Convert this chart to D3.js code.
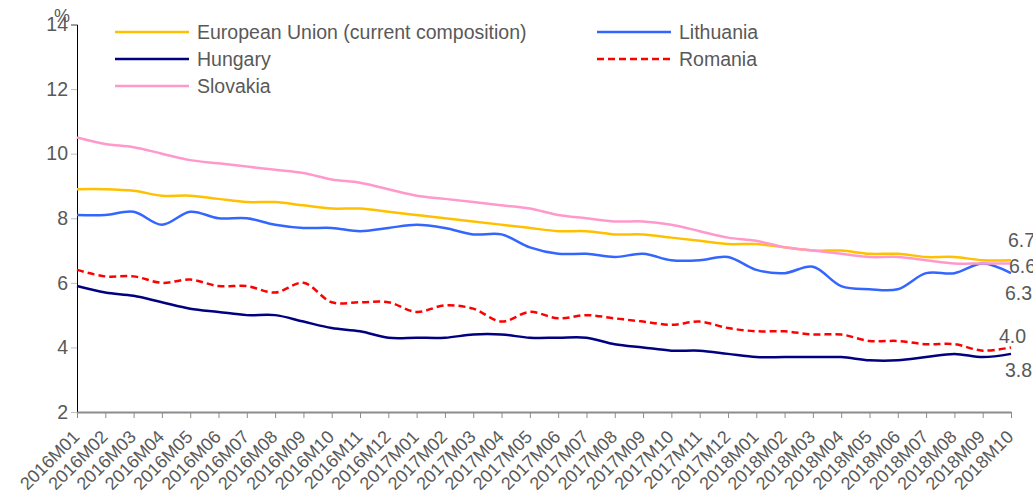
<!DOCTYPE html>
<html>
<head>
<meta charset="utf-8">
<script src="https://cdn.jsdelivr.net/npm/d3@7"></script>
<style>
    body { margin: 0; background: #fff; }
    text { font-family: "Liberation Sans", Arial, sans-serif; fill: #595959; }
</style>
</head>
<body>
<script>
const months = [
    "2016M01","2016M02","2016M03","2016M04","2016M05","2016M06","2016M07","2016M08","2016M09","2016M10","2016M11","2016M12",
    "2017M01","2017M02","2017M03","2017M04","2017M05","2017M06","2017M07","2017M08","2017M09","2017M10","2017M11","2017M12",
    "2018M01","2018M02","2018M03","2018M04","2018M05","2018M06","2018M07","2018M08","2018M09","2018M10"
];
const euValues = [8.9,8.9,8.85,8.7,8.7,8.6,8.5,8.5,8.4,8.3,8.3,8.2,8.1,8.0,7.9,7.8,7.7,7.6,7.6,7.5,7.5,7.4,7.3,7.2,7.2,7.1,7.0,7.0,6.9,6.9,6.8,6.8,6.7,6.7];
const lithuaniaValues = [8.1,8.1,8.2,7.8,8.2,8.0,8.0,7.8,7.7,7.7,7.6,7.7,7.8,7.7,7.5,7.5,7.1,6.9,6.9,6.8,6.9,6.7,6.7,6.8,6.4,6.3,6.5,5.9,5.8,5.8,6.3,6.3,6.6,6.3];
const hungaryValues = [5.9,5.7,5.6,5.4,5.2,5.1,5.0,5.0,4.8,4.6,4.5,4.3,4.3,4.3,4.4,4.4,4.3,4.3,4.3,4.1,4.0,3.9,3.9,3.8,3.7,3.7,3.7,3.7,3.6,3.6,3.7,3.8,3.7,3.8];
const romaniaValues = [6.4,6.2,6.2,6.0,6.1,5.9,5.9,5.7,6.0,5.4,5.4,5.4,5.1,5.3,5.2,4.8,5.1,4.9,5.0,4.9,4.8,4.7,4.8,4.6,4.5,4.5,4.4,4.4,4.2,4.2,4.1,4.1,3.9,4.0];
const slovakiaValues = [10.5,10.3,10.2,10.0,9.8,9.7,9.6,9.5,9.4,9.2,9.1,8.9,8.7,8.6,8.5,8.4,8.3,8.1,8.0,7.9,7.9,7.8,7.6,7.4,7.3,7.1,7.0,6.9,6.8,6.8,6.7,6.6,6.6,6.6];
const yTicks = [2, 4, 6, 8, 10, 12, 14];
const endLabels = ["6.7", "6.6", "6.3", "4.0", "3.8"];

const series = [
    { name: "European Union (current composition)", values: euValues, color: "#FFC000", dash: null },
    { name: "Lithuania", values: lithuaniaValues, color: "#3366FF", dash: null },
    { name: "Hungary", values: hungaryValues, color: "#000080", dash: null },
    { name: "Romania", values: romaniaValues, color: "#FF0000", dash: "7,4" },
    { name: "Slovakia", values: slovakiaValues, color: "#FF99CC", dash: null }
];

const width = 1033, height = 500;
const svg = d3.select("body").append("svg")
    .attr("width", width)
    .attr("height", height);

const x = d3.scalePoint().domain(months).range([77, 1011]);
const y = d3.scaleLinear().domain([2, 14]).range([412, 24.5]);

// y axis
const yAxis = svg.append("g")
    .attr("transform", "translate(77,0)")
    .call(d3.axisLeft(y).tickValues(yTicks).tickSize(6).tickPadding(3));
yAxis.select(".domain").attr("stroke", "#000").attr("stroke-width", 1);
yAxis.selectAll(".tick line").attr("stroke", "#bfbfbf");
yAxis.selectAll(".tick text").style("font-size", "19.5px").attr("fill", "#595959");

svg.append("text")
    .attr("x", 54)
    .attr("y", 22)
    .style("font-size", "18px")
    .text("%");

// x axis
const xAxis = svg.append("g")
    .attr("transform", "translate(0,412)")
    .call(d3.axisBottom(x).tickSize(6).tickSizeOuter(0));
xAxis.select(".domain").attr("stroke", "#8c8c8c").attr("stroke-width", 2);
xAxis.selectAll(".tick line").attr("stroke", "#8c8c8c");
xAxis.selectAll(".tick text")
    .style("font-size", "18px")
    .attr("fill", "#595959")
    .attr("text-anchor", "end")
    .attr("dy", null)
    .attr("y", 0)
    .attr("transform", "translate(3,26) rotate(-45)");

// lines
const line = d3.line()
    .x((d, i) => x(months[i]))
    .y(d => y(d))
    .curve(d3.curveCatmullRom.alpha(0.5));

series.forEach(s => {
    svg.append("path")
        .datum(s.values)
        .attr("fill", "none")
        .attr("stroke", s.color)
        .attr("stroke-width", 2.5)
        .attr("stroke-dasharray", s.dash)
        .attr("d", line);
});

// end labels
const endPos = [
    { x: 1008, y: 247 },
    { x: 1009, y: 273 },
    { x: 1005, y: 300 },
    { x: 999, y: 343 },
    { x: 1005, y: 377 }
];
svg.selectAll(".end-label")
    .data(endLabels)
    .enter()
    .append("text")
    .attr("class", "end-label")
    .attr("x", (d, i) => endPos[i].x)
    .attr("y", (d, i) => endPos[i].y)
    .style("font-size", "19.5px")
    .text(d => d);

// legend
const legendOrder = [
    { s: series[0], col: 0, row: 0 },
    { s: series[1], col: 1, row: 0 },
    { s: series[2], col: 0, row: 1 },
    { s: series[3], col: 1, row: 1 },
    { s: series[4], col: 0, row: 2 }
];
const colX = [115, 597];
const legend = svg.selectAll(".legend")
    .data(legendOrder)
    .enter()
    .append("g")
    .attr("class", "legend")
    .attr("transform", d => "translate(" + colX[d.col] + "," + (32 + d.row * 27) + ")");
legend.append("line")
    .attr("x1", 0).attr("x2", 74)
    .attr("y1", 0).attr("y2", 0)
    .attr("stroke", d => d.s.color)
    .attr("stroke-width", 2.5)
    .attr("stroke-dasharray", d => d.s.dash);
legend.append("text")
    .attr("x", 82)
    .attr("y", 7)
    .style("font-size", "19.5px")
    .text(d => d.s.name);
</script>
</body>
</html>
